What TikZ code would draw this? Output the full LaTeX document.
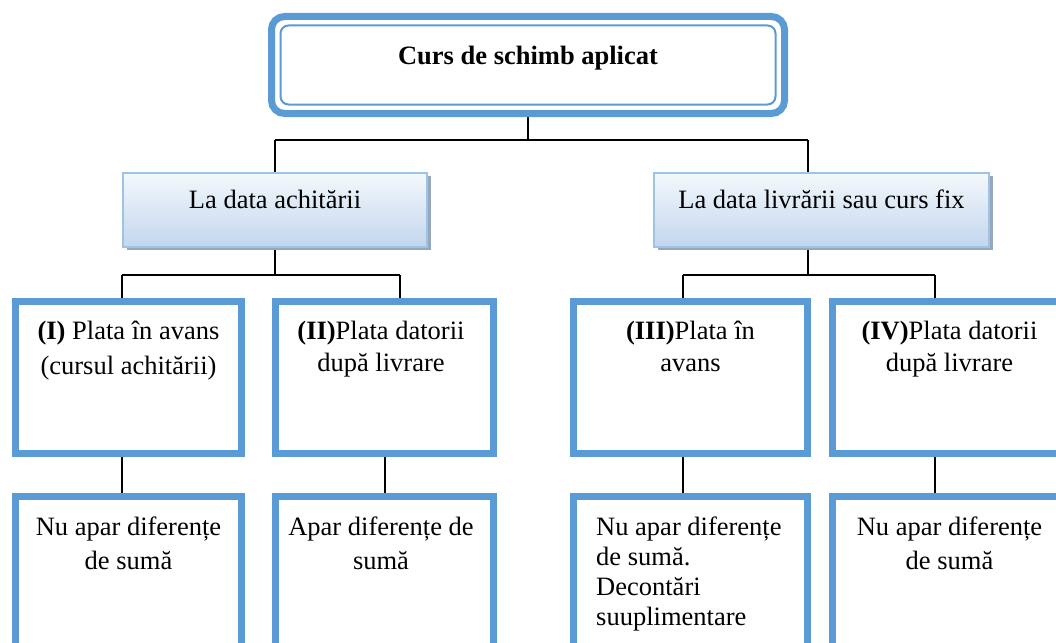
\documentclass[tikz,border=0pt]{standalone}
\usepackage{fontspec}
\setmainfont{Liberation Serif}
\usetikzlibrary{shadows,backgrounds}
\definecolor{bblue}{HTML}{5B9BD5}
\definecolor{lborder}{HTML}{9DC3E6}
\definecolor{gtop}{HTML}{F4F8FC}
\definecolor{gbot}{HTML}{C2D6EE}
\definecolor{shad}{HTML}{98A8BC}
\begin{document}
\begin{tikzpicture}[x=1pt,y=-1pt,
  bluebox/.style={draw=bblue, line width=7pt, inner sep=0pt, outer sep=0pt, fill=white},
  midbox/.style={draw=lborder, line width=2pt, top color=gtop, bottom color=gbot, inner sep=0pt, outer sep=0pt,
     drop shadow={shadow xshift=4pt, shadow yshift=-3pt, fill=shad, opacity=1}},
  conn/.style={draw=black, line width=1.6pt},
  txt/.style={inner sep=0pt, align=center}
]
\useasboundingbox (0,0) rectangle (1056,642);
\clip (0,0) rectangle (1056,642);

% title box
\node[draw=bblue, line width=7pt, rounded corners=13pt, minimum width=513pt, minimum height=97pt, inner sep=0pt, outer sep=0pt, fill=white] (title) at (528,65) {};
\draw[bblue, line width=2pt, rounded corners=8pt] ([shift={(9pt,-9pt)}]title.north west) rectangle ([shift={(-9pt,9pt)}]title.south east);
\node[font=\fontsize{26.5}{32}\selectfont\bfseries, anchor=base, inner sep=0pt] (titlet) at (528,64) {Curs de schimb aplicat};

% level 2
\node[midbox, minimum width=304pt, minimum height=74pt] (la) at (275,210) {};
\node[midbox, minimum width=335pt, minimum height=74pt] (lb) at (821.5,210) {};
\node[font=\fontsize{26.5}{32}\selectfont, anchor=base, inner sep=0pt] (lat) at (275,208) {La data achitării};
\node[font=\fontsize{26.5}{32}\selectfont, anchor=base, inner sep=0pt] (lbt) at (821.5,208) {La data livrării sau curs fix};

% level 3
\node[bluebox, minimum width=226pt, minimum height=152pt] (b1) at (128.5,377.5) {};
\node[bluebox, minimum width=218pt, minimum height=152pt] (b2) at (384.5,377.5) {};
\node[bluebox, minimum width=234pt, minimum height=152pt] (b3) at (690.5,377.5) {};
\node[bluebox, minimum width=234pt, minimum height=152pt] (b4) at (949.5,377.5) {};

\node[txt, font=\fontsize{26.5}{35}\selectfont, anchor=north] (t1) at (128.5,321) {\textbf{(I)} Plata în avans\\(cursul achitării)};
\node[txt, font=\fontsize{26.5}{32}\selectfont, anchor=north] (t2) at (381,321) {\textbf{(II)}Plata datorii\\după livrare};
\node[txt, font=\fontsize{26.5}{32}\selectfont, anchor=north] (t3) at (690.5,321) {\textbf{(III)}Plata în\\avans};
\node[txt, font=\fontsize{26.5}{32}\selectfont, anchor=north] (t4) at (949.5,321) {\textbf{(IV)}Plata datorii\\după livrare};

% level 4
\node[bluebox, minimum width=226pt, minimum height=203.5pt] (c1) at (128.5,598.25) {};
\node[bluebox, minimum width=218pt, minimum height=203.5pt] (c2) at (384.5,598.25) {};
\node[bluebox, minimum width=234pt, minimum height=203.5pt] (c3) at (690.5,598.25) {};
\node[bluebox, minimum width=234pt, minimum height=203.5pt] (c4) at (949.5,598.25) {};

\node[txt, font=\fontsize{26.5}{34}\selectfont, anchor=north] (u1) at (128.5,517) {Nu apar diferențe\\de sumă};
\node[txt, font=\fontsize{26.5}{34}\selectfont, anchor=north] (u2) at (381,517) {Apar diferențe de\\sumă};
\node[inner sep=0pt, align=left, font=\fontsize{26.5}{30}\selectfont, anchor=north west] (u3) at (596,517) {Nu apar diferențe\\de sumă.\\Decontări\\suuplimentare};
\node[txt, font=\fontsize{26.5}{34}\selectfont, anchor=north] (u4) at (949.5,517) {Nu apar diferențe\\de sumă};

% connectors
\begin{scope}[on background layer]
\coordinate (ja) at (275,140);
\coordinate (jb) at (808,140);
\draw[conn] (title.south) -- (title.south |- ja);
\draw[conn] (ja) -- (jb);
\draw[conn] (ja) -- (la.north);
\draw[conn] (jb) -- (jb |- lb.north);

\coordinate (ka) at (122,275);
\coordinate (kb) at (400,275);
\coordinate (kc) at (683,275);
\coordinate (kd) at (935,275);
\coordinate (ke) at (385,275);
\draw[conn] (la.south) -- (la.south |- ka);
\draw[conn] (ka) -- (kb);
\draw[conn] (ka) -- (ka |- b1.north);
\draw[conn] (kb) -- (kb |- b2.north);
\draw[conn] (jb |- lb.south) -- (jb |- kc);
\draw[conn] (kc) -- (kd);
\draw[conn] (kc) -- (kc |- b3.north);
\draw[conn] (kd) -- (kd |- b4.north);

\draw[conn] (ka |- b1.south) -- (ka |- c1.north);
\draw[conn] (ke |- b2.south) -- (ke |- c2.north);
\draw[conn] (kc |- b3.south) -- (kc |- c3.north);
\draw[conn] (kd |- b4.south) -- (kd |- c4.north);
\end{scope}
\end{tikzpicture}
\end{document}
